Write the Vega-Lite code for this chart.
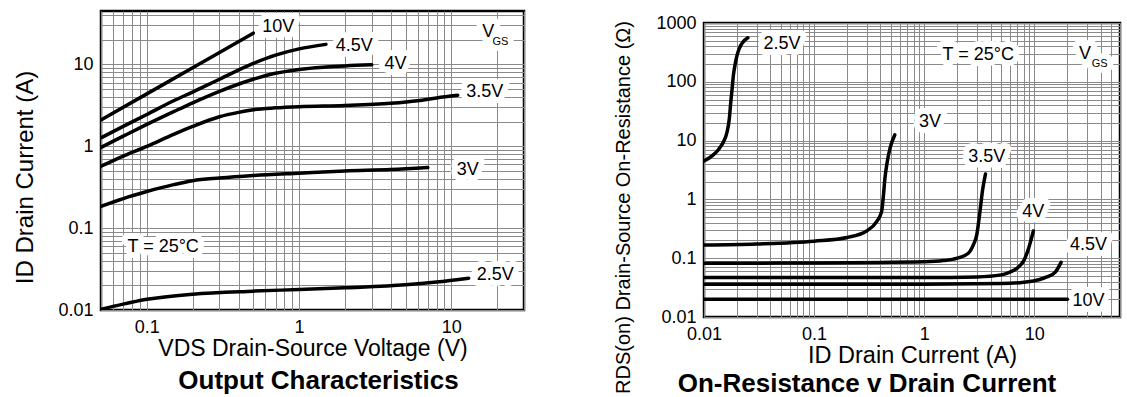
{
  "$schema": "https://vega.github.io/schema/vega-lite/v6.json",
  "background": "white",
  "padding": {"left": 12, "top": 4, "right": 2, "bottom": 0},
  "spacing": 86,
  "align": "none",
  "config": {
    "font": "Liberation Sans",
    "view": {"stroke": "black", "strokeWidth": 2.5},
    "axis": {
      "labelFont": "Liberation Sans", "labelFontSize": 18, "labelColor": "black",
      "titleFont": "Liberation Sans", "titleFontSize": 23, "titleFontWeight": "normal", "titleColor": "black",
      "ticks": false, "domain": false, "grid": true, "gridColor": "#8a8a8a", "gridWidth": 1, "gridOpacity": 1,
      "labelFlush": false, "labelOverlap": false, "labelBound": false, "labelPadding": 8, "format": "~g",
      "labelExpr": "indexof(['0.01','0.1','1','10','100','1000'], datum.label) >= 0 ? datum.label : ''"
    },
    "title": {"font": "Liberation Sans", "fontSize": 26, "fontWeight": "bold", "color": "black"}
  },
  "datasets": {
    "curvesL": [
      {"s": "10V", "x": 0.05, "y": 2.1}, {"s": "10V", "x": 0.1, "y": 4.37}, {"s": "10V", "x": 0.2, "y": 9.1}, {"s": "10V", "x": 0.3, "y": 14.0}, {"s": "10V", "x": 0.5, "y": 24.1},
      {"s": "4.5V", "x": 0.05, "y": 1.27}, {"s": "4.5V", "x": 0.07, "y": 1.75}, {"s": "4.5V", "x": 0.1, "y": 2.45}, {"s": "4.5V", "x": 0.15, "y": 3.6}, {"s": "4.5V", "x": 0.2, "y": 4.6}, {"s": "4.5V", "x": 0.3, "y": 6.6}, {"s": "4.5V", "x": 0.5, "y": 10.3}, {"s": "4.5V", "x": 0.7, "y": 13}, {"s": "4.5V", "x": 1, "y": 15.5}, {"s": "4.5V", "x": 1.5, "y": 17.6},
      {"s": "4V", "x": 0.05, "y": 0.97}, {"s": "4V", "x": 0.07, "y": 1.33}, {"s": "4V", "x": 0.1, "y": 1.85}, {"s": "4V", "x": 0.15, "y": 2.65}, {"s": "4V", "x": 0.2, "y": 3.4}, {"s": "4V", "x": 0.3, "y": 4.7}, {"s": "4V", "x": 0.5, "y": 6.6}, {"s": "4V", "x": 0.7, "y": 7.8}, {"s": "4V", "x": 1, "y": 8.7}, {"s": "4V", "x": 1.5, "y": 9.3}, {"s": "4V", "x": 2, "y": 9.6}, {"s": "4V", "x": 3, "y": 9.9},
      {"s": "3.5V", "x": 0.05, "y": 0.57}, {"s": "3.5V", "x": 0.07, "y": 0.76}, {"s": "3.5V", "x": 0.1, "y": 1.0}, {"s": "3.5V", "x": 0.15, "y": 1.4}, {"s": "3.5V", "x": 0.2, "y": 1.75}, {"s": "3.5V", "x": 0.3, "y": 2.3}, {"s": "3.5V", "x": 0.4, "y": 2.6}, {"s": "3.5V", "x": 0.5, "y": 2.8}, {"s": "3.5V", "x": 0.7, "y": 2.95}, {"s": "3.5V", "x": 1, "y": 3.05}, {"s": "3.5V", "x": 2, "y": 3.15}, {"s": "3.5V", "x": 4, "y": 3.35}, {"s": "3.5V", "x": 6, "y": 3.6}, {"s": "3.5V", "x": 8, "y": 3.9}, {"s": "3.5V", "x": 11, "y": 4.2},
      {"s": "3V", "x": 0.05, "y": 0.185}, {"s": "3V", "x": 0.07, "y": 0.23}, {"s": "3V", "x": 0.1, "y": 0.28}, {"s": "3V", "x": 0.15, "y": 0.34}, {"s": "3V", "x": 0.2, "y": 0.38}, {"s": "3V", "x": 0.3, "y": 0.41}, {"s": "3V", "x": 0.5, "y": 0.44}, {"s": "3V", "x": 1, "y": 0.47}, {"s": "3V", "x": 2, "y": 0.5}, {"s": "3V", "x": 4, "y": 0.52}, {"s": "3V", "x": 7, "y": 0.55},
      {"s": "2.5V", "x": 0.05, "y": 0.0102}, {"s": "2.5V", "x": 0.07, "y": 0.0118}, {"s": "2.5V", "x": 0.1, "y": 0.0135}, {"s": "2.5V", "x": 0.2, "y": 0.0156}, {"s": "2.5V", "x": 0.5, "y": 0.017}, {"s": "2.5V", "x": 1, "y": 0.0178}, {"s": "2.5V", "x": 2, "y": 0.0187}, {"s": "2.5V", "x": 5, "y": 0.0203}, {"s": "2.5V", "x": 8, "y": 0.022}, {"s": "2.5V", "x": 13, "y": 0.0245}
    ],
    "labelsL": [
      {"t": "10V", "x": 0.73, "y": 28.5}, {"t": "4.5V", "x": 2.3, "y": 17}, {"t": "4V", "x": 4.3, "y": 10.1},
      {"t": "3.5V", "x": 16.6, "y": 4.6}, {"t": "3V", "x": 12.8, "y": 0.51}, {"t": "2.5V", "x": 19.4, "y": 0.0264},
      {"t": "T = 25°C", "x": 0.128, "y": 0.059}, {"t": "V", "x": 17.5, "y": 24.7}
    ],
    "subsL": [{"t": "GS", "x": 21, "y": 18.6}],
    "curvesR": [
      {"s": "2.5V", "x": 0.01, "y": 4.5}, {"s": "2.5V", "x": 0.012, "y": 5.6}, {"s": "2.5V", "x": 0.0135, "y": 7}, {"s": "2.5V", "x": 0.015, "y": 9.5}, {"s": "2.5V", "x": 0.0162, "y": 14}, {"s": "2.5V", "x": 0.017, "y": 24}, {"s": "2.5V", "x": 0.0175, "y": 45}, {"s": "2.5V", "x": 0.018, "y": 76}, {"s": "2.5V", "x": 0.0185, "y": 130}, {"s": "2.5V", "x": 0.0191, "y": 190}, {"s": "2.5V", "x": 0.0208, "y": 360}, {"s": "2.5V", "x": 0.025, "y": 560},
      {"s": "3V", "x": 0.01, "y": 0.168}, {"s": "3V", "x": 0.03, "y": 0.175}, {"s": "3V", "x": 0.1, "y": 0.195}, {"s": "3V", "x": 0.2, "y": 0.225}, {"s": "3V", "x": 0.3, "y": 0.29}, {"s": "3V", "x": 0.37, "y": 0.42}, {"s": "3V", "x": 0.41, "y": 0.62}, {"s": "3V", "x": 0.425, "y": 1.1}, {"s": "3V", "x": 0.44, "y": 2.3}, {"s": "3V", "x": 0.46, "y": 4.2}, {"s": "3V", "x": 0.49, "y": 7.5}, {"s": "3V", "x": 0.54, "y": 12.5},
      {"s": "3.5V", "x": 0.01, "y": 0.082}, {"s": "3.5V", "x": 0.1, "y": 0.083}, {"s": "3.5V", "x": 1, "y": 0.087}, {"s": "3.5V", "x": 1.5, "y": 0.091}, {"s": "3.5V", "x": 2, "y": 0.1}, {"s": "3.5V", "x": 2.5, "y": 0.12}, {"s": "3.5V", "x": 2.8, "y": 0.17}, {"s": "3.5V", "x": 3.0, "y": 0.25}, {"s": "3.5V", "x": 3.2, "y": 0.6}, {"s": "3.5V", "x": 3.4, "y": 1.5}, {"s": "3.5V", "x": 3.6, "y": 2.7},
      {"s": "4V", "x": 0.01, "y": 0.047}, {"s": "4V", "x": 1, "y": 0.047}, {"s": "4V", "x": 3, "y": 0.048}, {"s": "4V", "x": 5, "y": 0.052}, {"s": "4V", "x": 6, "y": 0.058}, {"s": "4V", "x": 7, "y": 0.068}, {"s": "4V", "x": 8, "y": 0.09}, {"s": "4V", "x": 8.8, "y": 0.14}, {"s": "4V", "x": 9.3, "y": 0.2}, {"s": "4V", "x": 9.8, "y": 0.29},
      {"s": "4.5V", "x": 0.01, "y": 0.036}, {"s": "4.5V", "x": 1, "y": 0.036}, {"s": "4.5V", "x": 5, "y": 0.037}, {"s": "4.5V", "x": 8, "y": 0.039}, {"s": "4.5V", "x": 11, "y": 0.043}, {"s": "4.5V", "x": 13, "y": 0.048}, {"s": "4.5V", "x": 15.5, "y": 0.058}, {"s": "4.5V", "x": 17.5, "y": 0.085},
      {"s": "10V", "x": 0.01, "y": 0.02}, {"s": "10V", "x": 20, "y": 0.02}
    ],
    "labelsR": [
      {"t": "2.5V", "x": 0.051, "y": 441}, {"t": "T = 25°C", "x": 3.1, "y": 287}, {"t": "V", "x": 28.8, "y": 298},
      {"t": "3V", "x": 1.13, "y": 20.7}, {"t": "3.5V", "x": 3.7, "y": 5.3}, {"t": "4V", "x": 9.8, "y": 0.62},
      {"t": "4.5V", "x": 31, "y": 0.168}, {"t": "10V", "x": 31, "y": 0.0189}
    ],
    "subsR": [{"t": "GS", "x": 39.2, "y": 202}]
  },
  "hconcat": [
    {
      "width": 423,
      "height": 299,
      "title": {"text": "Output Characteristics", "orient": "bottom", "frame": "group", "anchor": "middle", "offset": 8, "dx": 6},
      "encoding": {
        "x": {"field": "x", "type": "quantitative",
          "scale": {"type": "log", "domain": [0.05, 30]},
          "axis": {"title": "VDS Drain-Source Voltage (V)", "titlePadding": 1,
            "values": [0.05, 0.06, 0.07, 0.08, 0.09, 0.1, 0.2, 0.3, 0.4, 0.5, 0.6, 0.7, 0.8, 0.9, 1, 2, 3, 4, 5, 6, 7, 8, 9, 10, 20, 30]}},
        "y": {"field": "y", "type": "quantitative",
          "scale": {"type": "log", "domain": [0.01, 45]},
          "axis": {"title": "ID  Drain Current (A)", "titleFontSize": 24, "titlePadding": 20, "titleY": 166,
            "values": [0.01, 0.02, 0.03, 0.04, 0.05, 0.06, 0.07, 0.08, 0.09, 0.1, 0.2, 0.3, 0.4, 0.5, 0.6, 0.7, 0.8, 0.9, 1, 2, 3, 4, 5, 6, 7, 8, 9, 10, 20, 30, 40]}}
      },
      "layer": [
        {"data": {"name": "labelsL"}, "mark": {"type": "text", "fontSize": 18, "fill": "white", "stroke": "white", "strokeWidth": 12, "strokeJoin": "round"}, "encoding": {"text": {"field": "t"}}},
        {"data": {"name": "subsL"}, "mark": {"type": "text", "fontSize": 11, "fill": "white", "stroke": "white", "strokeWidth": 12, "strokeJoin": "round"}, "encoding": {"text": {"field": "t"}}},
        {"data": {"name": "curvesL"}, "mark": {"type": "line", "color": "black", "strokeWidth": 3.5, "interpolate": "monotone", "strokeCap": "round", "clip": true}, "encoding": {"detail": {"field": "s"}}},
        {"data": {"name": "labelsL"}, "mark": {"type": "text", "fontSize": 18, "color": "black"}, "encoding": {"text": {"field": "t"}}},
        {"data": {"name": "subsL"}, "mark": {"type": "text", "fontSize": 11, "color": "black"}, "encoding": {"text": {"field": "t"}}}
      ]
    },
    {
      "spacing": 0,
      "vconcat": [
        {"width": 416, "height": 1, "data": {"values": []}, "mark": {"type": "point"}, "view": {"stroke": null}},
        {
          "width": 416,
          "height": 294,
          "title": {"text": "On-Resistance v Drain Current", "orient": "bottom", "frame": "bounds", "anchor": "middle", "offset": -25},
          "encoding": {
            "x": {"field": "x", "type": "quantitative",
              "scale": {"type": "log", "domain": [0.01, 60]},
              "axis": {"title": "ID  Drain Current (A)", "titleFontSize": 23.5, "titlePadding": 0,
                "values": [0.01, 0.02, 0.03, 0.04, 0.05, 0.06, 0.07, 0.08, 0.09, 0.1, 0.2, 0.3, 0.4, 0.5, 0.6, 0.7, 0.8, 0.9, 1, 2, 3, 4, 5, 6, 7, 8, 9, 10, 20, 30, 40, 50, 60]}},
            "y": {"field": "y", "type": "quantitative",
              "scale": {"type": "log", "domain": [0.01, 1000]},
              "axis": {"title": "RDS(on)  Drain-Source On-Resistance (Ω)", "titleFontSize": 20, "titlePadding": 22, "titleY": 184,
                "values": [0.01, 0.02, 0.03, 0.04, 0.05, 0.06, 0.07, 0.08, 0.09, 0.1, 0.2, 0.3, 0.4, 0.5, 0.6, 0.7, 0.8, 0.9, 1, 2, 3, 4, 5, 6, 7, 8, 9, 10, 20, 30, 40, 50, 60, 70, 80, 90, 100, 200, 300, 400, 500, 600, 700, 800, 900, 1000]}}
          },
          "layer": [
            {"data": {"name": "labelsR"}, "mark": {"type": "text", "fontSize": 18, "fill": "white", "stroke": "white", "strokeWidth": 12, "strokeJoin": "round"}, "encoding": {"text": {"field": "t"}}},
            {"data": {"name": "subsR"}, "mark": {"type": "text", "fontSize": 11, "fill": "white", "stroke": "white", "strokeWidth": 12, "strokeJoin": "round"}, "encoding": {"text": {"field": "t"}}},
            {"data": {"name": "curvesR"}, "mark": {"type": "line", "color": "black", "strokeWidth": 3.5, "interpolate": "monotone", "strokeCap": "round", "clip": true}, "encoding": {"detail": {"field": "s"}}},
            {"data": {"name": "labelsR"}, "mark": {"type": "text", "fontSize": 18, "color": "black"}, "encoding": {"text": {"field": "t"}}},
            {"data": {"name": "subsR"}, "mark": {"type": "text", "fontSize": 11, "color": "black"}, "encoding": {"text": {"field": "t"}}}
          ]
        }
      ]
    }
  ]
}
